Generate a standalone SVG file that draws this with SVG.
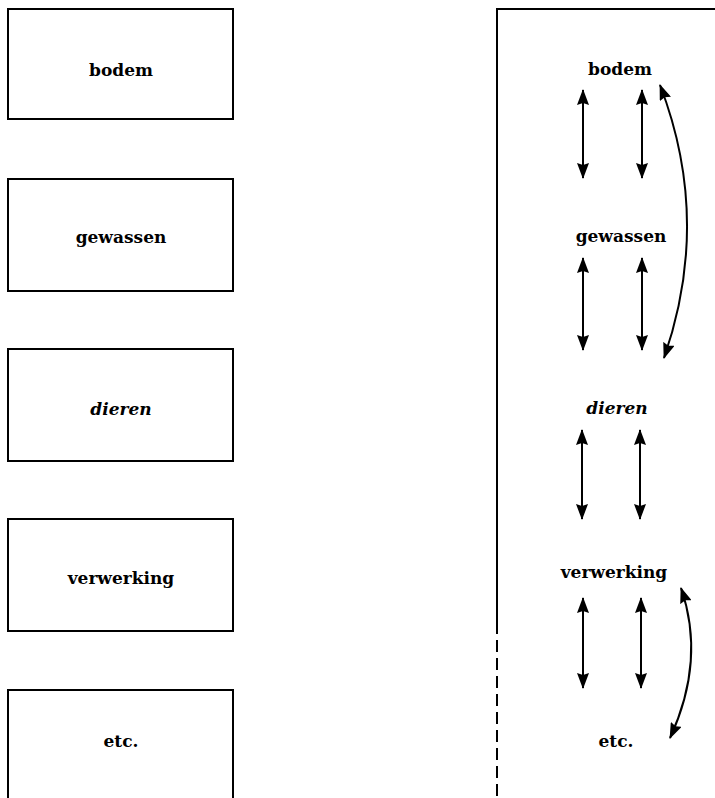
<svg xmlns="http://www.w3.org/2000/svg" width="715" height="798" viewBox="0 0 715 798">
<defs>
<style>
.box{fill:#fff;stroke:#000;stroke-width:2}
.t{font-family:"DejaVu Serif","Liberation Serif",serif;font-weight:bold;font-size:17px;text-anchor:middle;fill:#000}
.i{font-style:italic}
.c{fill:none;stroke:#000;stroke-width:2}
</style>
<marker id="ah" viewBox="0 0 16 12" refX="15" refY="6" markerWidth="16" markerHeight="12" markerUnits="userSpaceOnUse" orient="auto-start-reverse">
<path d="M0,0 L16,6 L0,12 L2,6 z" fill="#000"/>
</marker>
</defs>
<rect width="715" height="798" fill="#fff"/>
<g id="left-bodem"><rect class="box" x="8" y="9" width="225" height="110"/><text class="t" x="121" y="76">bodem</text></g>
<g id="left-gewassen"><rect class="box" x="8" y="179" width="225" height="112"/><text class="t" x="121" y="243">gewassen</text></g>
<g id="left-dieren"><rect class="box" x="8" y="349" width="225" height="112"/><text class="t i" x="121" y="415">dieren</text></g>
<g id="left-verwerking"><rect class="box" x="8" y="519" width="225" height="112"/><text class="t" x="121" y="584">verwerking</text></g>
<g id="left-etc"><path class="box" d="M8,800 V690 H233 V800"/><text class="t" x="121" y="747">etc.</text></g>
<g id="right-panel">
<path d="M715,9 H497 V622" fill="none" stroke="#000" stroke-width="2"/>
<path d="M497,622 V798" fill="none" stroke="#000" stroke-width="2" stroke-dasharray="12,6"/>
</g>
<g id="right-bodem"><text class="t" x="620" y="75">bodem</text></g>
<g id="right-gewassen"><text class="t" x="621" y="242">gewassen</text></g>
<g id="right-dieren"><text class="t i" x="617" y="414">dieren</text></g>
<g id="right-verwerking"><text class="t" x="614" y="578">verwerking</text></g>
<g id="right-etc"><text class="t" x="616" y="747">etc.</text></g>
<g id="connectors">
<line class="c" x1="583" y1="90" x2="583" y2="178" marker-start="url(#ah)" marker-end="url(#ah)"/>
<line class="c" x1="642" y1="90" x2="642" y2="178" marker-start="url(#ah)" marker-end="url(#ah)"/>
<line class="c" x1="583" y1="258" x2="583" y2="350" marker-start="url(#ah)" marker-end="url(#ah)"/>
<line class="c" x1="642" y1="258" x2="642" y2="350" marker-start="url(#ah)" marker-end="url(#ah)"/>
<line class="c" x1="582" y1="430" x2="582" y2="519" marker-start="url(#ah)" marker-end="url(#ah)"/>
<line class="c" x1="640" y1="430" x2="640" y2="519" marker-start="url(#ah)" marker-end="url(#ah)"/>
<line class="c" x1="583" y1="598" x2="583" y2="688" marker-start="url(#ah)" marker-end="url(#ah)"/>
<line class="c" x1="641" y1="598" x2="641" y2="688" marker-start="url(#ah)" marker-end="url(#ah)"/>
<path class="c" d="M660,85 Q712,220 664,358" marker-start="url(#ah)" marker-end="url(#ah)"/>
<path class="c" d="M681,588 Q706,660 670,738" marker-start="url(#ah)" marker-end="url(#ah)"/>
</g>
</svg>
